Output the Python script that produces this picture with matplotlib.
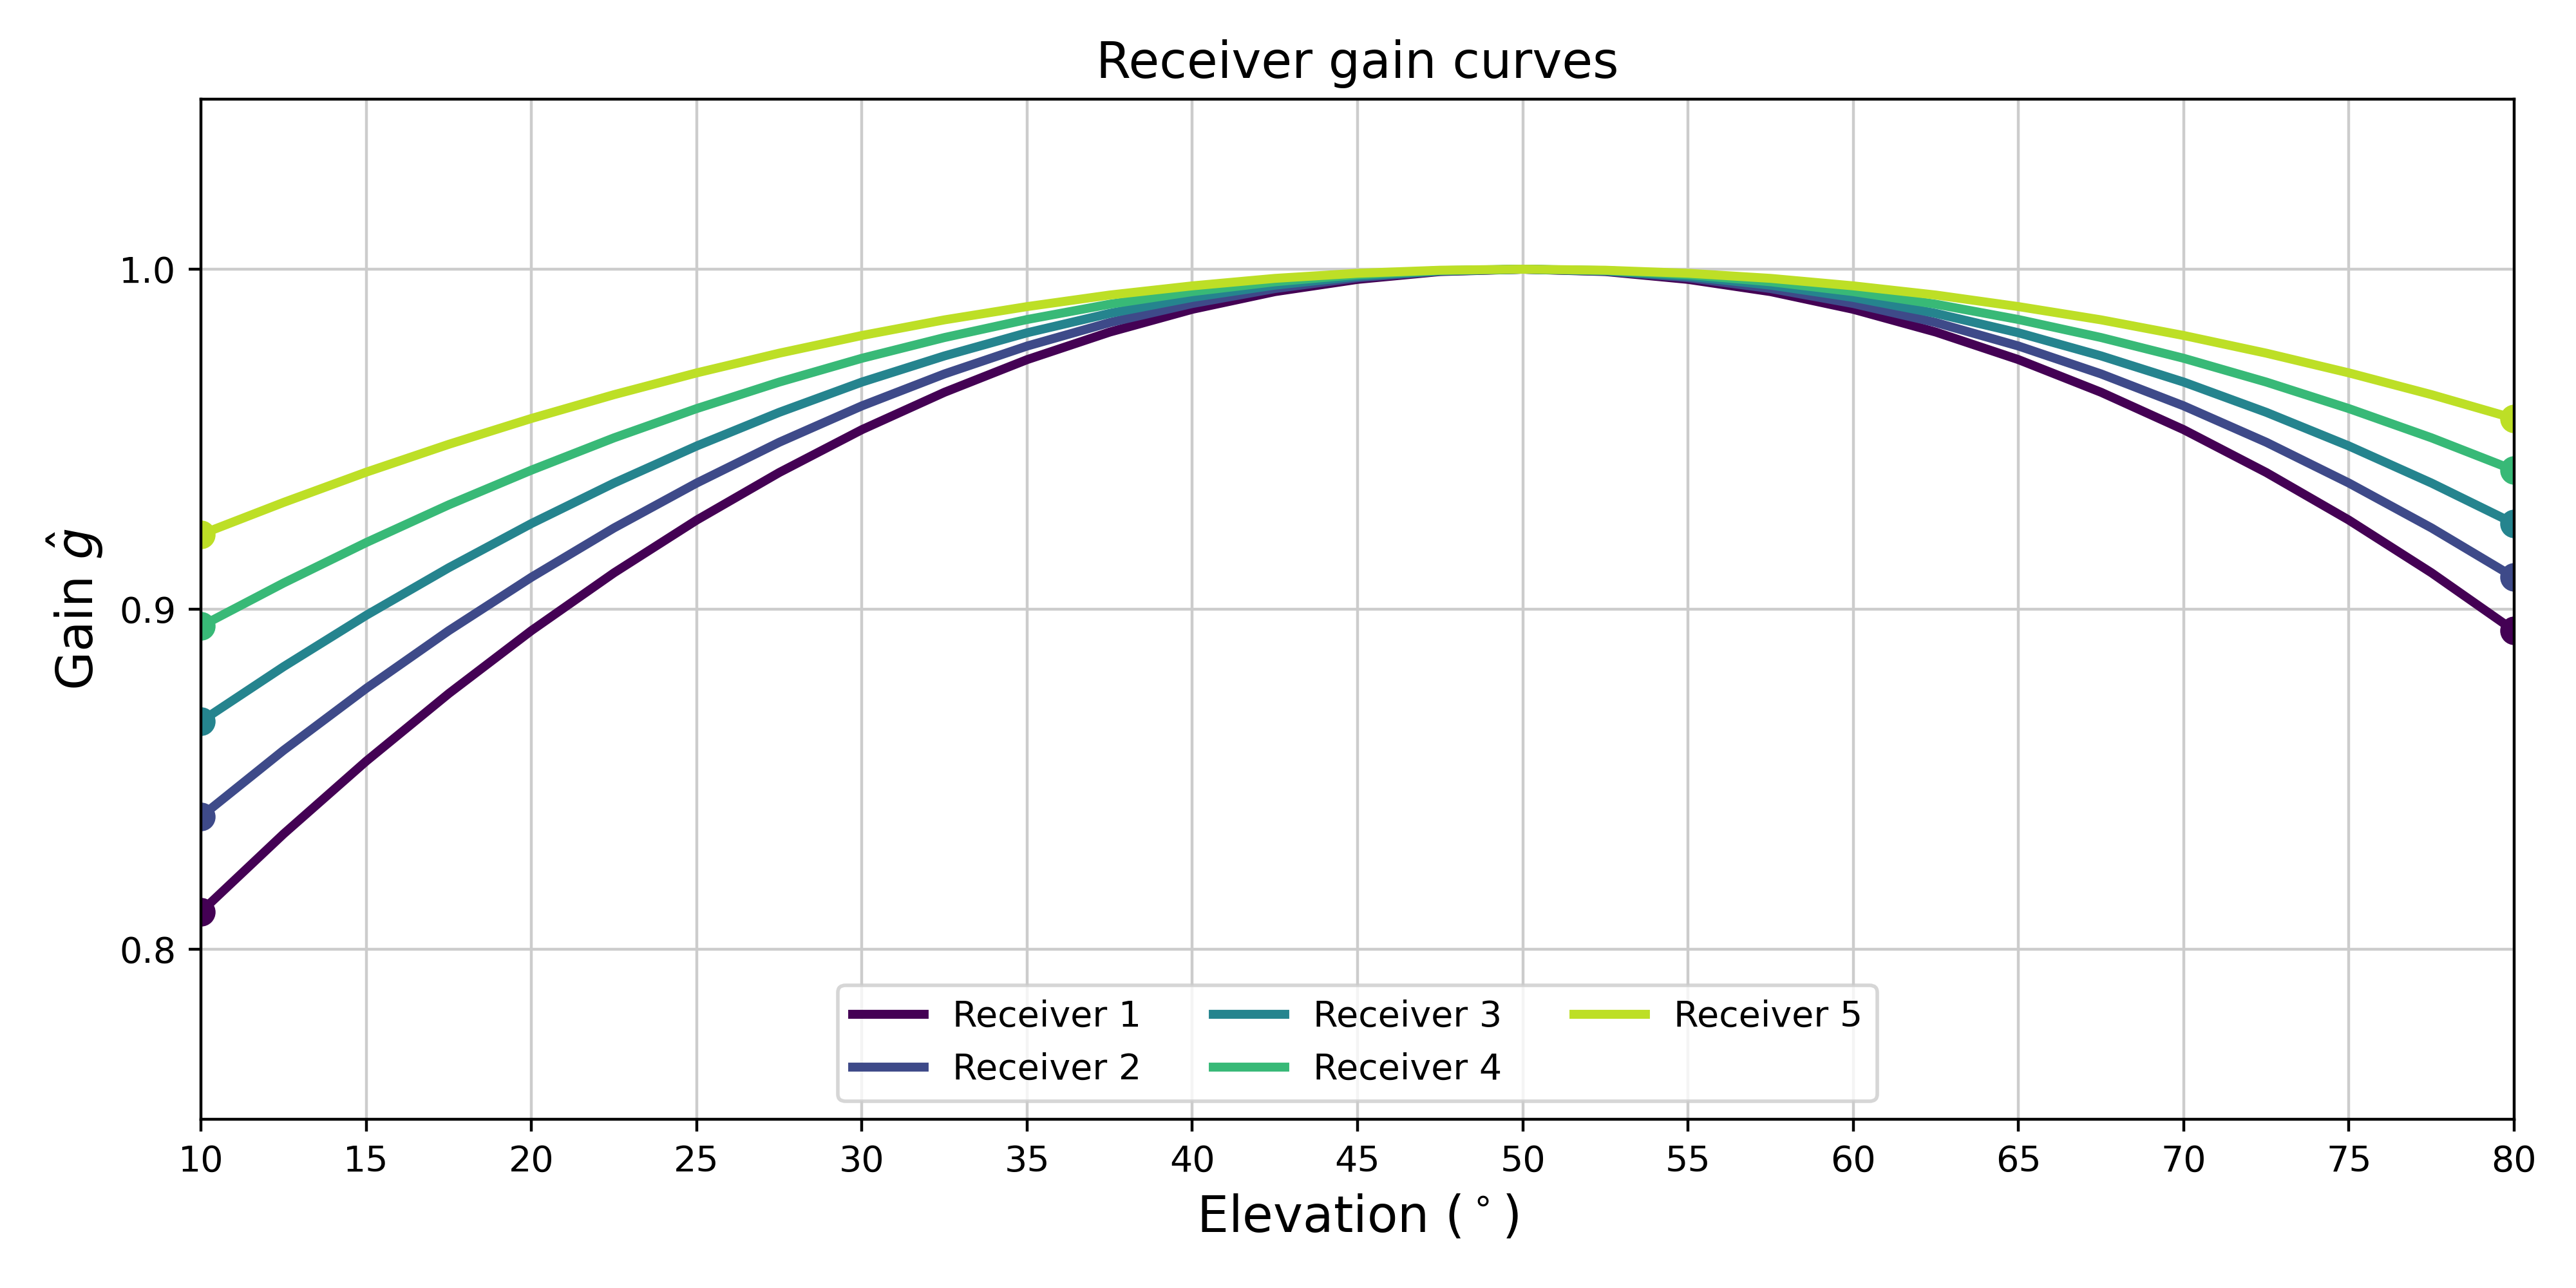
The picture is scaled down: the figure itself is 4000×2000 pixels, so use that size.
import matplotlib
matplotlib.use("Agg")
import matplotlib.pyplot as plt
import numpy as np

# elevation samples (degrees), every 2.5 deg
elevation = [10, 12.5, 15, 17.5, 20, 22.5, 25, 27.5, 30, 32.5, 35, 37.5, 40,
             42.5, 45, 47.5, 50, 52.5, 55, 57.5, 60, 62.5, 65, 67.5, 70,
             72.5, 75, 77.5, 80]

gain_r1 = [0.8110, 0.8339, 0.8553, 0.8752, 0.8937, 0.9107, 0.9262, 0.9402,
           0.9528, 0.9638, 0.9734, 0.9815, 0.9882, 0.9934, 0.9970, 0.9993,
           1.0000, 0.9993, 0.9970, 0.9934, 0.9882, 0.9815, 0.9734, 0.9638,
           0.9528, 0.9402, 0.9262, 0.9107, 0.8937]
gain_r2 = [0.8390, 0.8585, 0.8767, 0.8937, 0.9094, 0.9239, 0.9371, 0.9491,
           0.9598, 0.9692, 0.9774, 0.9843, 0.9899, 0.9943, 0.9975, 0.9994,
           1.0000, 0.9994, 0.9975, 0.9943, 0.9899, 0.9843, 0.9774, 0.9692,
           0.9598, 0.9491, 0.9371, 0.9239, 0.9094]
gain_r3 = [0.8670, 0.8831, 0.8982, 0.9122, 0.9252, 0.9371, 0.9480, 0.9579,
           0.9668, 0.9745, 0.9813, 0.9870, 0.9917, 0.9953, 0.9979, 0.9995,
           1.0000, 0.9995, 0.9979, 0.9953, 0.9917, 0.9870, 0.9813, 0.9745,
           0.9668, 0.9579, 0.9480, 0.9371, 0.9252]
gain_r4 = [0.8950, 0.9077, 0.9196, 0.9307, 0.9409, 0.9504, 0.9590, 0.9668,
           0.9738, 0.9799, 0.9852, 0.9897, 0.9934, 0.9963, 0.9984, 0.9996,
           1.0000, 0.9996, 0.9984, 0.9963, 0.9934, 0.9897, 0.9852, 0.9799,
           0.9738, 0.9668, 0.9590, 0.9504, 0.9409]
gain_r5 = [0.9220, 0.9314, 0.9403, 0.9485, 0.9561, 0.9631, 0.9695, 0.9753,
           0.9805, 0.9851, 0.9890, 0.9924, 0.9951, 0.9973, 0.9988, 0.9997,
           1.0000, 0.9997, 0.9988, 0.9973, 0.9951, 0.9924, 0.9890, 0.9851,
           0.9805, 0.9753, 0.9695, 0.9631, 0.9561]

labels = ["Receiver 1", "Receiver 2", "Receiver 3", "Receiver 4", "Receiver 5"]
gains = [gain_r1, gain_r2, gain_r3, gain_r4, gain_r5]

fig, ax = plt.subplots(figsize=(10, 5), dpi=400)
fig.subplots_adjust(left=0.078, right=0.976, top=0.923, bottom=0.131)

colors = plt.cm.viridis(np.linspace(0, 0.9, len(gains)))
for lab, g, c in zip(labels, gains, colors):
    ax.plot(elevation, g, color=c, linewidth=2.5, label=lab,
            solid_joinstyle="round")
    ax.plot([elevation[0], elevation[-1]], [g[0], g[-1]], "o",
            color=c, markersize=7)

ax.set_xlim(10, 80)
ax.set_ylim(0.75, 1.05)
ax.set_xticks(np.arange(10, 81, 5))
ax.set_yticks([0.8, 0.9, 1.0])
ax.tick_params(labelsize=10)
ax.grid(True, color="#cccccc", linewidth=0.8)

ax.set_title("Receiver gain curves", fontsize=14)
ax.set_xlabel(r"Elevation ($^\circ$)", fontsize=14)
ax.set_ylabel(r"Gain $\hat{g}$", fontsize=14)

ax.legend(loc="lower center", ncol=3, fontsize=10)

plt.savefig("out.png", dpi=400)
